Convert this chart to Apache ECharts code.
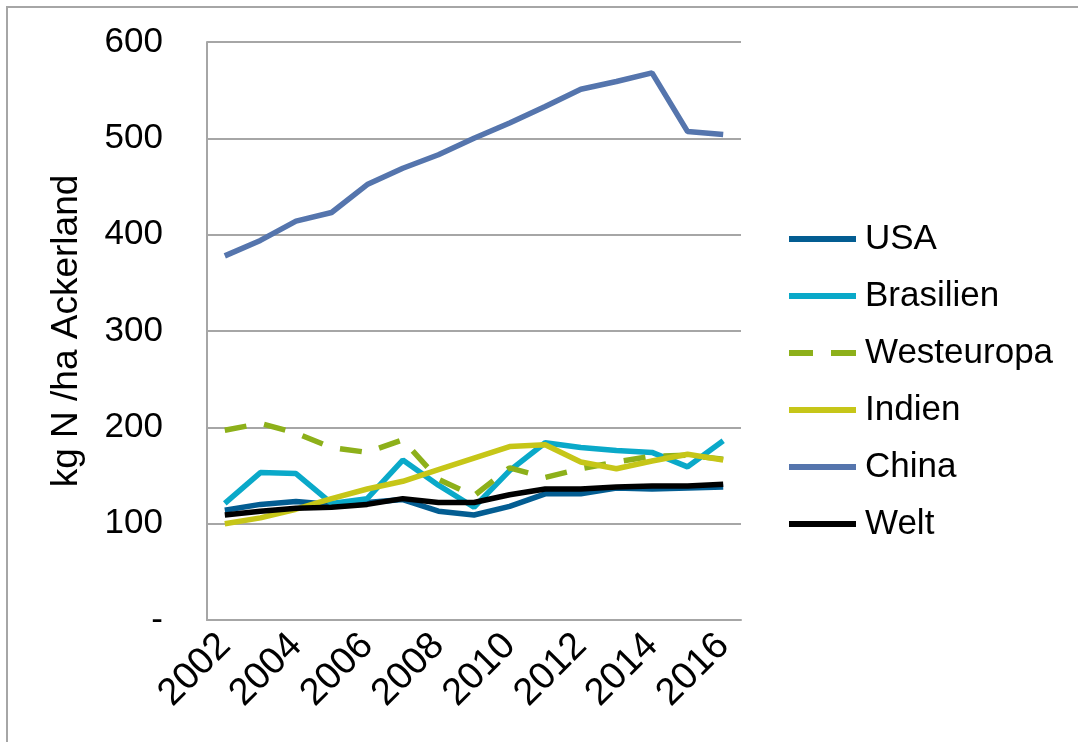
<!DOCTYPE html>
<html>
<head>
<meta charset="utf-8">
<script src="https://cdn.jsdelivr.net/npm/echarts@6/dist/echarts.min.js"></script>
<style>
  html, body { margin: 0; padding: 0; background: #fff; }
  #chart { width: 1078px; height: 742px; }
</style>
</head>
<body>
<div id="chart"></div>
<script>
const years = ['2002','2003','2004','2005','2006','2007','2008','2009','2010','2011','2012','2013','2014','2015','2016'];
const usa        = [114, 120, 123, 120, 122, 125, 113, 109, 118, 131, 131, 137, 136, 137, 138];
const brasilien  = [121, 153, 152, 121, 126, 166, 140, 117, 155, 184, 179, 176, 174, 159, 186];
const westeuropa = [197, 204, 194, 179, 174, 187, 146, 129, 158, 148, 157, 164, 170, 171, 167];
const indien     = [100, 106, 115, 126, 136, 144, 156, 168, 180, 182, 164, 157, 165, 172, 166];
const china      = [378, 394, 414, 423, 452, 469, 483, 500, 516, 533, 551, 559, 568, 507, 504];
const welt       = [109, 113, 116, 117, 120, 126, 122, 122, 130, 136, 136, 138, 139, 139, 141];

const names  = ['USA', 'Brasilien', 'Westeuropa', 'Indien', 'China', 'Welt'];
const colors = ['#035D92', '#0AA9C9', '#8DB01A', '#C6C618', '#5575AD', '#000000'];

const font = '"Liberation Sans", Arial, sans-serif';
const chart = echarts.init(document.getElementById('chart'));

function line(i, data, dashed) {
  return {
    name: names[i],
    type: 'line',
    data: data,
    symbol: 'none',
    showSymbol: false,
    lineStyle: { color: colors[i], width: 5.5, type: dashed ? [22, 18] : 'solid' },
    itemStyle: { color: colors[i] },
    emphasis: { disabled: true }
  };
}

const dashIcon = 'path://M0,0 L24,0 L24,6 L0,6 Z M42,0 L67,0 L67,6 L42,6 Z';

chart.setOption({
  animation: false,
  backgroundColor: '#ffffff',
  graphic: [{
    type: 'polyline',
    shape: { points: [[7, 742], [7, 7], [1078, 7]] },
    style: { stroke: '#A6A6A6', lineWidth: 2, fill: null }
  }],
  grid: { left: 207, right: 337, top: 42, bottom: 122 },
  legend: {
    orient: 'vertical',
    left: 784,
    top: 216,
    itemWidth: 67,
    itemHeight: 6,
    itemGap: 21,
    textStyle: { fontFamily: font, fontSize: 35, color: '#000', lineHeight: 36, padding: [0, 0, 0, 4] },
    data: names.map(function (n, i) {
      return {
        name: n,
        icon: i === 2 ? dashIcon : 'rect',
        itemStyle: { color: colors[i], borderWidth: 0 }
      };
    })
  },
  xAxis: {
    type: 'category',
    data: years,
    boundaryGap: true,
    axisLine: { lineStyle: { color: '#A6A6A6', width: 2 } },
    axisTick: { show: false },
    axisLabel: {
      interval: 1,
      rotate: 45,
      margin: 20,
      fontFamily: font,
      fontSize: 38,
      color: '#000'
    }
  },
  yAxis: {
    type: 'value',
    min: 0,
    max: 600,
    interval: 100,
    name: 'kg N /ha Ackerland',
    nameLocation: 'middle',
    nameGap: 122,
    nameTextStyle: { fontFamily: font, fontSize: 37, color: '#000' },
    axisLine: { show: true, lineStyle: { color: '#A6A6A6', width: 2 } },
    axisTick: { show: false },
    splitLine: { lineStyle: { color: '#A6A6A6', width: 2 } },
    axisLabel: {
      margin: 44,
      fontFamily: font,
      fontSize: 35,
      color: '#000',
      formatter: function (v) { return v === 0 ? '-' : String(v); }
    }
  },
  series: [
    line(0, usa),
    line(1, brasilien),
    line(2, westeuropa, true),
    line(3, indien),
    line(4, china),
    line(5, welt)
  ]
});
</script>
</body>
</html>
